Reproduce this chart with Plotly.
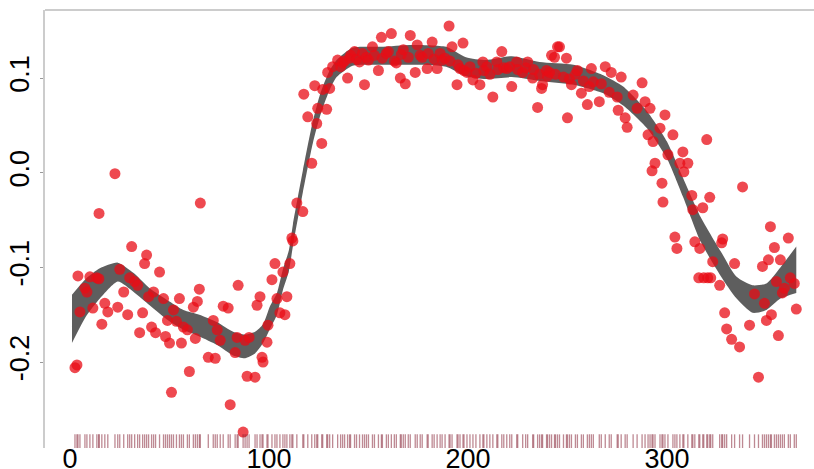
import plotly.graph_objects as go

# ---- data: day of year (x) and partial residual (y) ----
day = [2.5, 3.5, 4, 5, 7.5, 8.5, 10, 11.5, 13.5, 14.5, 14.6, 16, 17.5, 19, 22.6, 24, 25, 27, 29, 30,
       31, 32.5, 34, 35, 36.5, 37.5, 38.5, 39.5, 41, 42, 43, 45, 47, 48, 49, 50, 51, 52, 53.5, 55,
       56, 57, 59, 60, 62, 63, 64, 65, 65.5, 69.5, 72, 73, 74, 75.5, 77, 79.5, 80.5, 83, 84, 84.5,
       87, 88, 89, 90, 93, 94, 95.5, 96.5, 97, 99, 99.5, 101.5, 103, 104, 105.5, 107, 108, 109, 110.5, 111.5,
       112, 114, 117, 117.5, 119.5, 121.5, 123, 124, 124.5, 126.5, 127, 129, 129.5, 130.5, 132, 134.5, 136, 137, 138, 139.5,
       140.5, 141, 143, 144, 145.5, 147, 148, 149, 150, 152, 153, 155, 156.5, 157, 159, 160, 161.5, 163, 164, 166,
       166.5, 167.5, 168.5, 170, 171, 173.5, 174.5, 176, 177, 179.5, 180, 182, 183, 184.5, 186, 187, 188.5, 190.5, 191, 192,
       194.5, 195, 196, 197.5, 198, 199.5, 201, 202.5, 204, 206, 207.5, 208, 209.5, 211, 212.5, 214.5, 215, 217, 218, 219.5,
       221, 222, 224.5, 225, 227.5, 229, 230, 232.5, 233, 235, 236, 237, 237.5, 239.5, 240, 241, 242, 243.5, 244, 245,
       246, 248, 249.5, 250, 251, 252, 254, 255, 257, 258, 260, 261, 262, 263, 266, 267, 269, 271, 272, 275,
       275.5, 277, 279, 280, 283, 285, 287.5, 289, 290.5, 291.5, 292.5, 293, 294, 296.5, 297.5, 298, 299, 300.5, 303, 304,
       305, 306.5, 308, 308.5, 310.5, 312.5, 313, 314, 316, 316.5, 318, 318.5, 320, 320.5, 321.5, 322, 323, 326.5, 327.5, 328,
       329, 330, 332.5, 334, 336.5, 338, 341.5, 344, 346, 348, 349, 350, 351, 352, 352.5, 354, 355, 356, 357, 358,
       359, 361, 362, 364, 365]
resid = [-0.206, -0.203, -0.109, -0.147, -0.122, -0.126, -0.110, -0.143, -0.111, -0.112, -0.043, -0.160, -0.138, -0.147, -0.001, -0.142, -0.102, -0.126, -0.150, -0.111,
         -0.078, -0.115, -0.119, -0.169, -0.148, -0.096, -0.087, -0.131, -0.163, -0.126, -0.169, -0.105, -0.133, -0.173, -0.156, -0.180, -0.232, -0.145, -0.157, -0.133,
         -0.180, -0.163, -0.166, -0.210, -0.142, -0.175, -0.136, -0.123, -0.032, -0.195, -0.156, -0.196, -0.166, -0.177, -0.141, -0.143, -0.245, -0.190, -0.174, -0.119,
         -0.274, -0.177, -0.215, -0.174, -0.216, -0.140, -0.131, -0.195, -0.200, -0.179, -0.161, -0.113, -0.096, -0.133, -0.148, -0.105, -0.150, -0.131, -0.096, -0.069,
         -0.072, -0.032, -0.041, 0.083, 0.059, 0.010, 0.092, 0.052, 0.068, 0.031, 0.088, 0.067, 0.106, 0.089, 0.112, 0.119, 0.112, 0.116, 0.118, 0.100,
         0.121, 0.124, 0.128, 0.120, 0.117, 0.126, 0.093, 0.122, 0.119, 0.133, 0.124, 0.108, 0.143, 0.121, 0.126, 0.128, 0.147, 0.118, 0.116, 0.100,
         0.125, 0.130, 0.094, 0.122, 0.145, 0.106, 0.135, 0.124, 0.122, 0.110, 0.126, 0.138, 0.120, 0.110, 0.126, 0.119, 0.121, 0.155, 0.118, 0.133,
         0.093, 0.114, 0.110, 0.137, 0.108, 0.106, 0.112, 0.098, 0.105, 0.093, 0.117, 0.108, 0.112, 0.104, 0.080, 0.117, 0.109, 0.128, 0.111, 0.110,
         0.112, 0.091, 0.117, 0.109, 0.106, 0.111, 0.117, 0.100, 0.109, 0.069, 0.104, 0.089, 0.093, 0.108, 0.102, 0.106, 0.124, 0.122, 0.104, 0.133,
         0.133, 0.101, 0.121, 0.058, 0.099, 0.093, 0.104, 0.108, 0.084, 0.097, 0.072, 0.091, 0.110, 0.096, 0.075, 0.094, 0.112, 0.085, 0.106, 0.080,
         0.066, 0.101, 0.058, 0.048, 0.082, 0.068, 0.095, 0.075, 0.040, 0.068, 0.002, 0.033, 0.010, 0.047, -0.011, -0.031, 0.061, 0.019, 0.040, -0.068,
         -0.080, 0.010, 0.022, 0.001, 0.010, -0.024, -0.039, -0.073, -0.111, -0.080, -0.037, -0.111, 0.035, -0.111, -0.026, -0.111, -0.094, -0.119, -0.074, -0.070,
         -0.148, -0.165, -0.176, -0.096, -0.184, -0.015, -0.161, -0.128, -0.216, -0.099, -0.138, -0.156, -0.092, -0.057, -0.150, -0.079, -0.115, -0.172, -0.092, -0.127,
         -0.122, -0.069, -0.111, -0.117, -0.144]

# ---- smooth term confidence band ----
band_x = [1, 8, 15, 24, 32, 40, 50, 57, 65, 74, 82, 88, 93, 97, 100.5, 104, 107, 110,
          112, 117, 122, 126, 130, 134, 142, 156, 172, 189, 199, 209, 222, 236, 253, 268,
          278, 290, 300, 308, 317, 327, 335, 343, 350, 357, 365]
band_upper = [-0.129, -0.112, -0.101, -0.095, -0.106, -0.122, -0.136, -0.145, -0.150, -0.158, -0.168, -0.171, -0.168, -0.160, -0.141, -0.127, -0.102, -0.082,
              -0.055, 0.002, 0.054, 0.085, 0.106, 0.119, 0.132, 0.133, 0.135, 0.133, 0.122, 0.119, 0.123, 0.117, 0.114, 0.103,
              0.091, 0.065, 0.033, -0.005, -0.047, -0.083, -0.110, -0.119, -0.117, -0.100, -0.078]
band_lower = [-0.180, -0.152, -0.133, -0.115, -0.126, -0.140, -0.157, -0.166, -0.173, -0.182, -0.193, -0.196, -0.191, -0.180, -0.165, -0.150, -0.124, -0.104,
              -0.078, -0.021, 0.031, 0.062, 0.085, 0.101, 0.113, 0.114, 0.114, 0.112, 0.102, 0.099, 0.101, 0.097, 0.093, 0.084,
              0.071, 0.047, 0.015, -0.025, -0.073, -0.109, -0.133, -0.148, -0.145, -0.133, -0.127]

x_ticks = [0, 100, 200, 300]
y_ticks = [-0.2, -0.1, 0.0, 0.1]
y_tick_text = ["-0.2", "-0.1", "0.0", "0.1"]
rug_level = -0.2845

fig = go.Figure()
fig.add_trace(go.Scatter(x=band_x, y=band_lower, mode="lines", line=dict(width=0, shape="spline", smoothing=0.6),
                         hoverinfo="skip", showlegend=False))
fig.add_trace(go.Scatter(x=band_x, y=band_upper, mode="lines", line=dict(width=0, shape="spline", smoothing=0.6),
                         fill="tonexty", fillcolor="rgb(94,94,94)", hoverinfo="skip", showlegend=False))
fig.add_trace(go.Scatter(x=day, y=resid, mode="markers",
                         marker=dict(size=11, color="rgba(232,12,22,0.75)", line=dict(width=0)),
                         showlegend=False))
fig.add_trace(go.Scatter(x=day, y=[rug_level] * len(day), mode="markers",
                         marker=dict(symbol="line-ns", size=11,
                                     line=dict(width=1.3, color="rgba(125,20,40,0.5)")),
                         hoverinfo="skip", showlegend=False))

fig.update_layout(
    width=814, height=469,
    margin=dict(l=45, r=0, t=10, b=21),
    paper_bgcolor="white", plot_bgcolor="white",
    font=dict(family="Liberation Sans, Arial, sans-serif", size=27, color="black"),
    xaxis=dict(range=[-12.56, 373.9], tickvals=x_ticks, ticks="", showgrid=False, zeroline=False,
               showline=False, tickfont=dict(size=27), automargin=False, ticklabelstandoff=-8),
    yaxis=dict(range=[-0.2908, 0.1719], tickvals=y_ticks, ticktext=y_tick_text, tickangle=-90,
               ticks="outside", ticklen=3, tickcolor="#999999", showgrid=False, zeroline=False,
               showline=True, linecolor="#cccccc", linewidth=2, tickfont=dict(size=27), automargin=False),
    shapes=[dict(type="line", xref="paper", yref="paper", x0=0, x1=1, y0=1, y1=1,
                 line=dict(color="#cccccc", width=2))],
)

# remove the default page margin so the figure fills the 814x469 window exactly
fig.write_html("out.html", config={"displayModeBar": False},
               post_script="document.body.style.margin='0px';document.body.style.overflow='hidden';")
